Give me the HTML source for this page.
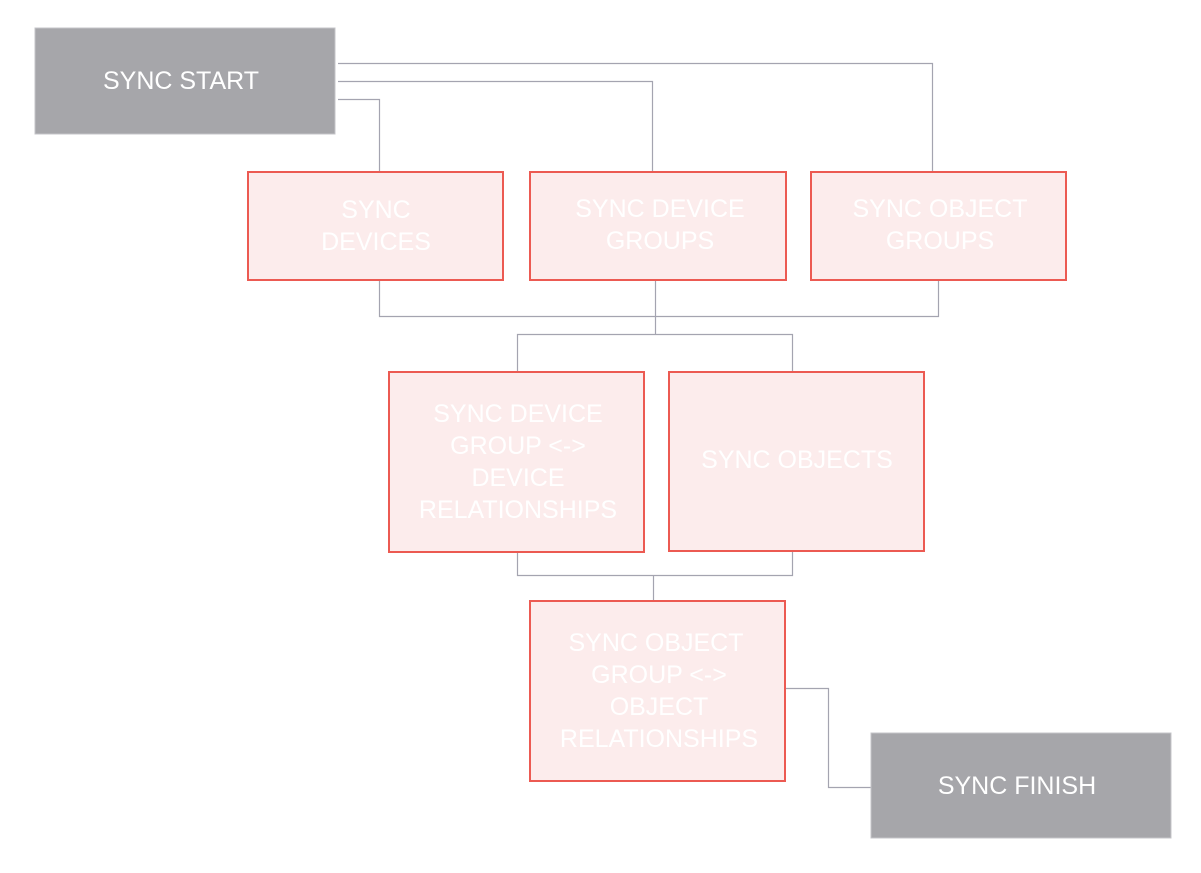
<!DOCTYPE html>
<html><head><meta charset="utf-8"><style>
html,body{margin:0;padding:0;background:#fff;}
svg{display:block;}
text{font-family:"Liberation Sans",Arial,sans-serif;font-size:25px;fill:#fff;text-anchor:middle;}
</style></head><body>
<svg width="1201" height="873" viewBox="0 0 1201 873" xmlns="http://www.w3.org/2000/svg">
<g fill="none" stroke="#a4a4b0" stroke-width="1.2">
<path d="M338 63.5H932.5V171"/>
<path d="M338 81.5H652.5V171"/>
<path d="M338 99.5H379.5V171"/>
<path d="M379.5 281V316.5H938.5V281"/>
<path d="M655.5 281V334"/>
<path d="M517.5 371V334.5H792.5V371"/>
<path d="M517.5 553V575.5H792.5V552"/>
<path d="M653.5 575V600"/>
<path d="M786 688.5H828.5V787.5H871"/>
</g>
<rect x="35" y="28" width="300" height="106" fill="#a6a6aa" stroke="#c4c4c8" stroke-width="1"/>
<rect x="871" y="733" width="300" height="105" fill="#a6a6aa" stroke="#c4c4c8" stroke-width="1"/>
<g fill="#fcecec" stroke="#ec5a52" stroke-width="2">
<rect x="248" y="172" width="255" height="108"/>
<rect x="530" y="172" width="256" height="108"/>
<rect x="811" y="172" width="255" height="108"/>
<rect x="389" y="372" width="255" height="180"/>
<rect x="669" y="372" width="255" height="179"/>
<rect x="530" y="601" width="255" height="180"/>
</g>
<text x="181" y="89">SYNC START</text>
<text x="1017" y="794">SYNC FINISH</text>
<text x="376" y="218">SYNC</text>
<text x="376" y="250">DEVICES</text>
<text x="660" y="217">SYNC DEVICE</text>
<text x="660" y="249">GROUPS</text>
<text x="940" y="217">SYNC OBJECT</text>
<text x="940" y="249">GROUPS</text>
<text x="518" y="422">SYNC DEVICE</text>
<text x="518" y="454">GROUP &lt;-&gt;</text>
<text x="518" y="486">DEVICE</text>
<text x="518" y="518">RELATIONSHIPS</text>
<text x="797" y="468">SYNC OBJECTS</text>
<text x="656" y="651">SYNC OBJECT</text>
<text x="659" y="683">GROUP &lt;-&gt;</text>
<text x="659" y="715">OBJECT</text>
<text x="659" y="747">RELATIONSHIPS</text>
</svg>
</body></html>
